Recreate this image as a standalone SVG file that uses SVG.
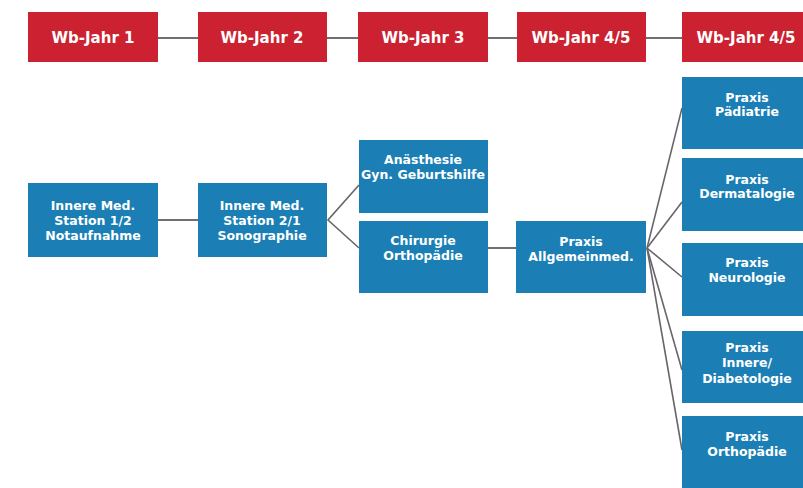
<svg xmlns="http://www.w3.org/2000/svg" width="803" height="488" viewBox="0 0 803 488">
<style>
.red{fill:#cc2131}
.blue{fill:#1b7fb5}
.t{font-family:"DejaVu Sans","Liberation Sans",sans-serif;font-weight:bold;fill:#ffffff;text-anchor:middle}
.h{font-size:15px}
.b{font-size:12.5px}
.c{stroke:#707070;stroke-width:2;fill:none}
.f{stroke:#666666;stroke-width:1.6;fill:none}
</style>
<rect width="803" height="488" fill="#ffffff"/>
<g id="connectors">
<line class="c" x1="158" y1="38" x2="198" y2="38"/>
<line class="c" x1="327" y1="38" x2="358" y2="38"/>
<line class="c" x1="488" y1="38" x2="517" y2="38"/>
<line class="c" x1="646" y1="38" x2="682" y2="38"/>
<line class="c" x1="158" y1="220" x2="198" y2="220"/>
<polyline class="f" points="359,185 328,220 359,248"/>
<line class="c" x1="488" y1="248" x2="516" y2="248"/>
<line class="f" x1="647" y1="248" x2="682" y2="108"/>
<line class="f" x1="647" y1="248" x2="682" y2="202"/>
<line class="f" x1="647" y1="248" x2="682" y2="277"/>
<line class="f" x1="647" y1="248" x2="682" y2="370"/>
<line class="f" x1="647" y1="248" x2="682" y2="450"/>
</g>
<g id="wb1"><rect class="red" x="28" y="12" width="130" height="50"/><text class="t h" x="93" y="43">Wb-Jahr 1</text></g>
<g id="wb2"><rect class="red" x="198" y="12" width="129" height="50"/><text class="t h" x="262" y="43">Wb-Jahr 2</text></g>
<g id="wb3"><rect class="red" x="358" y="12" width="130" height="50"/><text class="t h" x="423" y="43">Wb-Jahr 3</text></g>
<g id="wb4"><rect class="red" x="517" y="12" width="129" height="50"/><text class="t h" x="581" y="43">Wb-Jahr 4/5</text></g>
<g id="wb5"><rect class="red" x="682" y="12" width="130" height="50"/><text class="t h" x="746" y="43">Wb-Jahr 4/5</text></g>
<g id="inn12"><rect class="blue" x="28" y="183" width="130" height="74"/><text class="t b" x="93" y="210">Innere Med.<tspan x="93" dy="15">Station 1/2</tspan><tspan x="93" dy="15">Notaufnahme</tspan></text></g>
<g id="inn21"><rect class="blue" x="198" y="183" width="129" height="74"/><text class="t b" x="262" y="210">Innere Med.<tspan x="262" dy="15">Station 2/1</tspan><tspan x="262" dy="15">Sonographie</tspan></text></g>
<g id="anae"><rect class="blue" x="359" y="140" width="129" height="73"/><text class="t b" x="423" y="164">Anästhesie<tspan x="423" dy="15">Gyn. Geburtshilfe</tspan></text></g>
<g id="chir"><rect class="blue" x="359" y="221" width="129" height="72"/><text class="t b" x="423" y="245">Chirurgie<tspan x="423" dy="15">Orthopädie</tspan></text></g>
<g id="allg"><rect class="blue" x="516" y="221" width="130" height="72"/><text class="t b" x="581" y="246">Praxis<tspan x="581" dy="15">Allgemeinmed.</tspan></text></g>
<g id="paed"><rect class="blue" x="682" y="77" width="130" height="72"/><text class="t b" x="747" y="102">Praxis<tspan x="747" dy="14">Pädiatrie</tspan></text></g>
<g id="derm"><rect class="blue" x="682" y="158" width="130" height="73"/><text class="t b" x="747" y="184">Praxis<tspan x="747" dy="14">Dermatalogie</tspan></text></g>
<g id="neuro"><rect class="blue" x="682" y="243" width="130" height="73"/><text class="t b" x="747" y="267">Praxis<tspan x="747" dy="15">Neurologie</tspan></text></g>
<g id="diab"><rect class="blue" x="682" y="331" width="130" height="72"/><text class="t b" x="747" y="352">Praxis<tspan x="747" dy="15">Innere/</tspan><tspan x="747" dy="16">Diabetologie</tspan></text></g>
<g id="ortho"><rect class="blue" x="682" y="416" width="130" height="80"/><text class="t b" x="747" y="441">Praxis<tspan x="747" dy="15">Orthopädie</tspan></text></g>
</svg>
